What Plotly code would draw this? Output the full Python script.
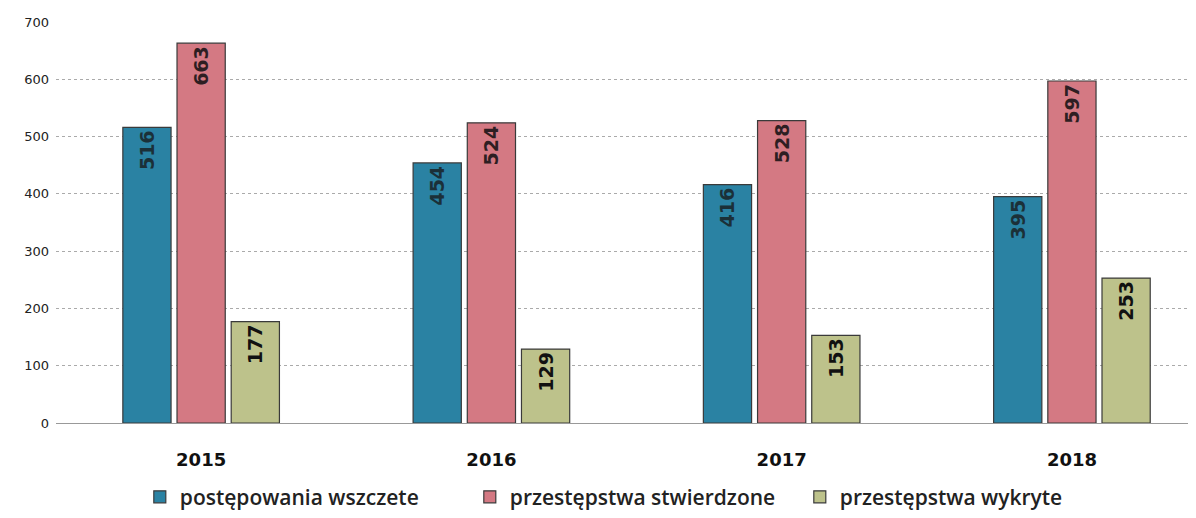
import plotly.graph_objects as go

years = ["2015", "2016", "2017", "2018"]
series_names = ["postępowania wszczete", "przestępstwa stwierdzone", "przestępstwa wykryte"]
wszczete = [516, 454, 416, 395]
stwierdzone = [663, 524, 528, 597]
wykryte = [177, 129, 153, 253]
y_ticks = [0, 100, 200, 300, 400, 500, 600, 700]

colors = ["#2a82a3", "#d47983", "#bdc28b"]
label_colors = ["#1b3038", "#2e1e22", "#111111"]

fig = go.Figure()
for name, vals, col, lcol in zip(series_names, [wszczete, stwierdzone, wykryte], colors, label_colors):
    fig.add_trace(
        go.Bar(
            x=years,
            y=vals,
            name=name,
            marker=dict(color=col, line=dict(color="#3a3a3a", width=1.2)),
            text=[str(v) for v in vals],
            textposition="inside",
            insidetextanchor="end",
            textangle=-90,
            textfont=dict(family="DejaVu Sans", size=19, color=lcol, weight="bold"),
            constraintext="none",
        )
    )

fig.update_layout(
    width=1196,
    height=518,
    barmode="group",
    bargap=0.44,
    bargroupgap=0.11,
    margin=dict(l=48, r=0, t=14, b=103, autoexpand=False),
    plot_bgcolor="white",
    paper_bgcolor="white",
    font=dict(family="Open Sans", color="#222"),
    xaxis=dict(
        range=[-0.5, 3.455],
        showgrid=False,
        showline=True,
        linecolor="#999",
        linewidth=1,
        ticks="",
        tickfont=dict(family="DejaVu Sans", size=18, color="#111", weight="bold"),
        ticklabelstandoff=20,
    ),
    yaxis=dict(
        range=[0, 700],
        tickvals=y_ticks,
        showgrid=True,
        gridcolor="#aaa",
        griddash="dot",
        gridwidth=1,
        zeroline=False,
        tickfont=dict(family="DejaVu Sans", size=13, color="#222"),
        ticklabelstandoff=6,
    ),
    legend=dict(
        orientation="h",
        x=0.073,
        xanchor="left",
        y=-0.185,
        yanchor="middle",
        font=dict(family="Open Sans", size=21, color="#222", weight=600),
        entrywidth=285,
        entrywidthmode="pixels",
        itemwidth=30,
        traceorder="normal",
    ),
)

fig.write_html("out.html")
